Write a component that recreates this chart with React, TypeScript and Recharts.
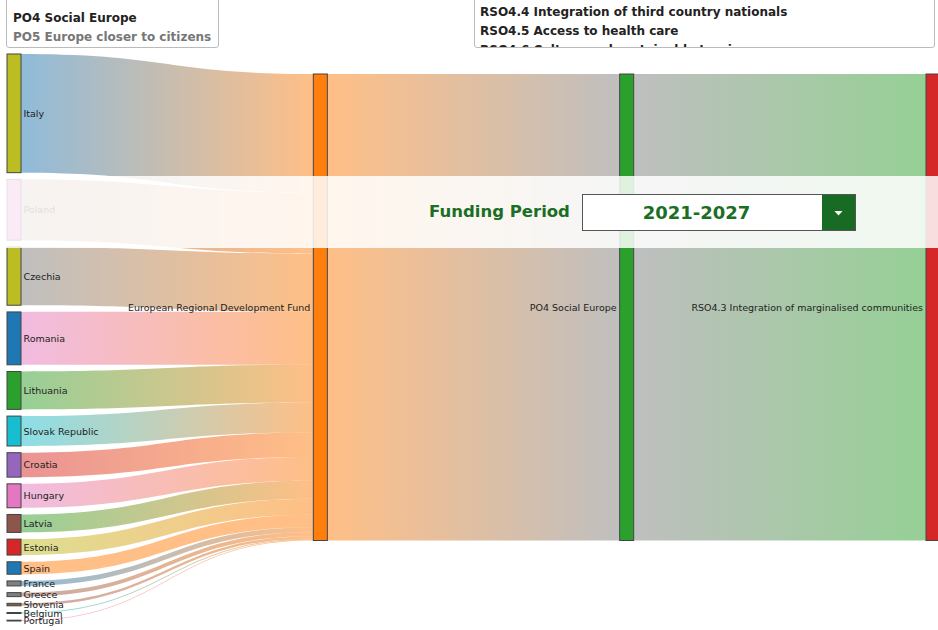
import React from 'react';
import { Sankey } from 'recharts';

// country allocations (EUR million)
const countries = [
  'Italy', 'Poland', 'Czechia', 'Romania', 'Lithuania', 'Slovak Republic', 'Croatia', 'Hungary',
  'Latvia', 'Estonia', 'Spain', 'France', 'Greece', 'Slovenia', 'Belgium', 'Portugal',
];
const countryValues = [1190, 610, 585, 530, 380, 300, 245, 240, 180, 160, 125, 50, 40, 25, 10, 8];
const countryNodeColors = [
  '#bcbd22', '#e377c2', '#bcbd22', '#1f77b4', '#2ca02c', '#17becf', '#9467bd', '#e377c2',
  '#8c564b', '#d62728', '#1f77b4', '#7f7f7f', '#7f7f7f', '#8c564b', '#333333', '#333333',
];
const countryLinkColors = [
  '#1f77b4', '#8c564b', '#7f7f7f', '#e377c2', '#2ca02c', '#17becf', '#d62728', '#e377c2',
  '#2ca02c', '#bcbd22', '#ff7f0e', '#1f77b4', '#8c564b', '#8c564b', '#17becf', '#e377c2',
];

const chain = ['European Regional Development Fund', 'PO4 Social Europe', 'RSO4.3 Integration of marginalised communities'];
const chainNodeColors = ['#ff7f0e', '#2ca02c', '#d62728'];
const chainLinkColors = [['#ff7f0e', '#7f7f7f'], ['#7f7f7f', '#2ca02c']];

const policyObjectives = ['PO4 Social Europe', 'PO5 Europe closer to citizens'];
const specificObjectives = [
  'RSO4.4 Integration of third country nationals',
  'RSO4.5 Access to health care',
  'RSO4.6 Culture and sustainable tourism',
];
const fundingPeriod = '2021-2027';

const GREEN = '#1b6e25';
const COLUMN_SHIFT = 20;
const FONT = '"DejaVu Sans", Verdana, sans-serif';

const total = countryValues.reduce((a, b) => a + b, 0);
const erdf = countries.length;

const nodes = [
  ...countries.map((name, i) => ({ name, color: countryNodeColors[i] })),
  ...chain.map((name, i) => ({ name, color: chainNodeColors[i] })),
];
const links = [
  ...countries.map((_, i) => ({ source: i, target: erdf, value: countryValues[i], colors: [countryLinkColors[i], '#ff7f0e'] })),
  { source: erdf, target: erdf + 1, value: total, colors: chainLinkColors[0] },
  { source: erdf + 1, target: erdf + 2, value: total, colors: chainLinkColors[1] },
];

const renderLink = (props: any) => {
  const { sourceX, targetX, sourceY, targetY, sourceControlX, targetControlX, linkWidth, index, payload } = props;
  const sy = sourceY + (payload.source.depth > 0 ? COLUMN_SHIFT : 0);
  const ty = targetY + (payload.target.depth > 0 ? COLUMN_SHIFT : 0);
  const h = linkWidth / 2;
  const d =
    `M${sourceX},${sy - h} C${sourceControlX},${sy - h} ${targetControlX},${ty - h} ${targetX},${ty - h} ` +
    `L${targetX},${ty + h} C${targetControlX},${ty + h} ${sourceControlX},${sy + h} ${sourceX},${sy + h} Z`;
  const id = `link-grad-${index}`;
  const [c0, c1] = payload.colors;
  return (
    <g key={id}>
      <defs>
        <linearGradient id={id} gradientUnits="userSpaceOnUse" x1={sourceX} y1={0} x2={targetX} y2={0}>
          <stop offset="0%" stopColor={c0} stopOpacity={0.5} />
          <stop offset="100%" stopColor={c1} stopOpacity={0.5} />
        </linearGradient>
      </defs>
      <path d={d} fill={`url(#${id})`} stroke="none" />
    </g>
  );
};

const renderNode = (props: any) => {
  const { x, y, width, height, index, payload } = props;
  const first = payload.depth === 0;
  const top = y + (first ? 0 : COLUMN_SHIFT);
  return (
    <g key={`node-${index}`}>
      <rect x={x} y={top} width={width} height={height} fill={payload.color} stroke="#444" strokeWidth={1} />
      <text
        x={first ? x + width + 2.5 : x - 3}
        y={top + height / 2}
        textAnchor={first ? 'start' : 'end'}
        dominantBaseline="central"
        fontSize={9.5}
        fontFamily={FONT}
        fill="#222"
      >
        {payload.name}
      </text>
    </g>
  );
};

const boxStyle: React.CSSProperties = {
  position: 'absolute',
  top: -10,
  height: 58,
  boxSizing: 'border-box',
  border: '1px solid #bbb',
  borderRadius: 3,
  background: '#fff',
  overflow: 'hidden',
  fontFamily: FONT,
  fontWeight: 'bold',
  fontSize: 12,
  lineHeight: '19px',
  whiteSpace: 'nowrap',
};

export default function App() {
  return (
    <div style={{ position: 'absolute', left: 0, top: 0, width: 938, height: 630, overflow: 'hidden', background: '#fff' }}>
      <Sankey
        width={940}
        height={630}
        data={{ nodes, links }}
        margin={{ top: 54, left: 7, right: 0, bottom: 9 }}
        nodeWidth={14}
        nodePadding={6.7}
        linkCurvature={0.5}
        iterations={0}
        node={renderNode}
        link={renderLink}
      />

      <div style={{ ...boxStyle, left: 6, width: 213, paddingTop: 18, paddingLeft: 6 }}>
        {policyObjectives.map((t, i) => (
          <div key={t} style={{ color: i === 0 ? '#222' : '#777' }}>{t}</div>
        ))}
      </div>

      <div style={{ ...boxStyle, left: 474, width: 461, paddingTop: 12, paddingLeft: 5 }}>
        {specificObjectives.map((t) => (
          <div key={t} style={{ color: '#222' }}>{t}</div>
        ))}
      </div>

      <div style={{ position: 'absolute', left: 0, top: 176, width: 938, height: 72, background: 'rgba(255,255,255,0.85)', fontFamily: FONT }}>
        <div style={{ position: 'absolute', left: 429, top: 26, fontSize: 16.5, fontWeight: 'bold', color: GREEN, lineHeight: '20px' }}>
          Funding Period
        </div>
        <div
          style={{
            position: 'absolute', left: 582, top: 18, width: 274, height: 37, boxSizing: 'border-box',
            border: '1px solid #555', background: '#fff', display: 'flex',
          }}
        >
          <div style={{ flex: 1, textAlign: 'center', paddingRight: 12, fontSize: 18, fontWeight: 'bold', color: GREEN, lineHeight: '35px' }}>
            {fundingPeriod}
          </div>
          <div style={{ width: 33, background: '#176b22', position: 'relative' }}>
            <svg width={33} height={35} style={{ position: 'absolute', left: 0, top: 0 }}>
              <polygon points="12.5,16 20.5,16 16.5,20.5" fill="#fff" />
            </svg>
          </div>
        </div>
      </div>
    </div>
  );
}
